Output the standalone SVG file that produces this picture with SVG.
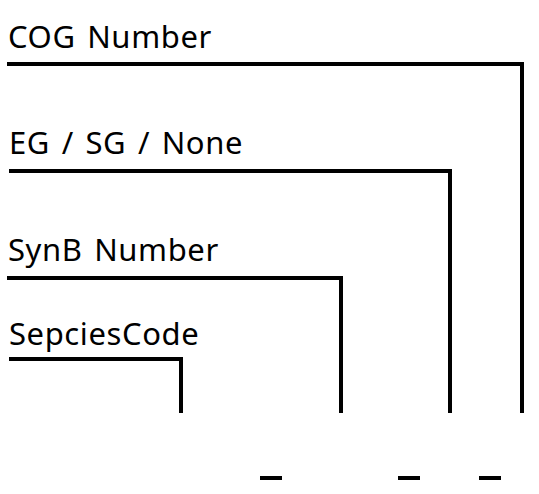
<svg xmlns="http://www.w3.org/2000/svg" width="539" height="494" viewBox="0 0 539 494">
<style>
.lbl{font-family:"Noto Sans","Open Sans",sans-serif;font-size:31px;letter-spacing:0.6px;word-spacing:3px;fill:#000}
.ln{fill:none;stroke:#000;stroke-width:4;stroke-linejoin:miter}
</style>
<rect width="539" height="494" fill="#fff"/>
<g id="cog"><text class="lbl" x="8" y="48">COG Number</text></g>
<g id="eg"><text class="lbl" x="9" y="154">EG / SG / None</text></g>
<g id="synb"><text class="lbl" x="8" y="261">SynB Number</text></g>
<g id="species"><text class="lbl" x="9" y="345">SepciesCode</text></g>
<g id="connectors">
<path class="ln" d="M7 64 H522 V413"/>
<path class="ln" d="M9 171 H450 V413"/>
<path class="ln" d="M7 278 H341 V413"/>
<path class="ln" d="M9 359 H181 V413"/>
<path class="ln" d="M260 478 H282"/>
<path class="ln" d="M398 478 H420"/>
<path class="ln" d="M479 478 H501"/>
</g>
</svg>
